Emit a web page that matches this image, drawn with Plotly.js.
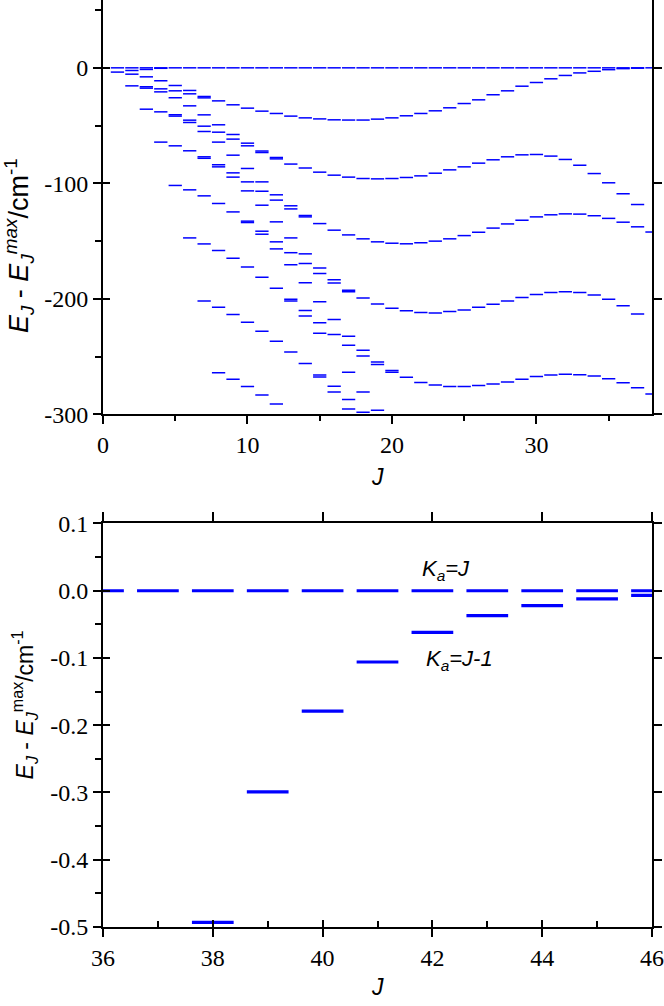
<!DOCTYPE html>
<html><head><meta charset="utf-8">
<script src="https://cdn.plot.ly/plotly-3.0.1.min.js"></script>
<style>html,body{margin:0;padding:0;background:#fff}#chart{width:664px;height:1006px}</style>
</head><body><div id="chart"></div>
<script>
// ---------- DATA ----------
// Top panel: rotational quantum number J and the levels E_J - E_J^max (cm^-1) visible for each J
const topJ = [0,1,2,3,4,5,6,7,8,9,10,11,12,13,14,15,16,17,18,19,20,21,22,23,24,25,26,27,28,29,30,31,32,33,34,35,36,37,38];
const topLevels = [
  [0],
  [0,-3.7],
  [0,-2.3,-5.5,-15.6],
  [0,-1.4,-7.8,-16.4,-17.6,-35.8],
  [0,-0.4,-11.2,-18.2,-20.8,-38.1,-64.3],
  [0,-15.3,-19.9,-25.9,-40.6,-41.8,-67.5,-101.8],
  [0,-19.6,-22.5,-32.9,-45.3,-47.3,-71.8,-105.6,-147.2],
  [0,-24.8,-26.0,-40.7,-50.5,-55.1,-77.0,-78.3,-110.8,-152.4,-201.7],
  [0,-28.6,-49.3,-55.7,-64.3,-83.9,-85.7,-117.4,-158.1,-207.2,-264.0],
  [0,-32.0,-57.7,-61.7,-75.6,-90.9,-94.6,-124.7,-164.8,-213.5,-269.5],
  [0,-34.9,-65.2,-67.5,-87.1,-98.7,-106.5,-132.7,-133.9,-172.3,-220.2,-275.9],
  [0,-37.5,-72.0,-73.3,-98.7,-106.8,-118.9,-141.4,-144.0,-181.2,-228.0,-283.1],
  [0,-39.5,-77.6,-78.8,-109.9,-114.5,-133.3,-150.6,-156.7,-190.7,-236.6,-290.9],
  [0,-41.8,-83.3,-119.4,-122.1,-147.2,-160.0,-170.5,-200.2,-201.9,-246.0],
  [0,-43.3,-86.7,-127.8,-129.0,-161.0,-169.3,-186.1,-210.0,-214.8,-256.0],
  [0,-44.2,-90.3,-134.8,-173.2,-178.1,-202.4,-220.6,-229.8,-265.9,-267.6],
  [0,-45.0,-92.9,-140.5,-183.5,-186.3,-217.9,-230.8,-275.6,-280.5],
  [0,-45.2,-94.6,-144.6,-192.4,-193.9,-232.3,-240.1,-263.5,-287.1,-295.2],
  [0,-45.2,-95.8,-148.0,-199.1,-244.4,-249.3,-280.5,-298.1],
  [0,-44.4,-96.1,-150.6,-204.3,-254.5,-256.8,-296.4],
  [0,-43.3,-95.8,-151.8,-208.1,-262.0,-263.4],
  [0,-41.5,-94.9,-152.3,-210.3,-267.8],
  [0,-39.5,-93.5,-151.4,-211.8,-272.4],
  [0,-37.2,-91.2,-150.0,-212.1,-274.4],
  [0,-34.6,-88.3,-148.0,-210.9,-275.9],
  [0,-30.9,-85.7,-145.2,-209.5,-275.9],
  [0,-27.7,-82.5,-142.3,-207.2,-275.0],
  [0,-23.3,-79.6,-138.7,-204.6,-273.6],
  [0,-19.9,-77.0,-135.1,-201.7,-271.9],
  [0,-15.9,-75.3,-131.9,-198.8,-269.5],
  [0,-12.7,-75.0,-129.0,-196.2,-267.2],
  [0,-9.5,-76.4,-127.2,-194.4,-265.8],
  [0,-6.6,-79.3,-126.4,-193.9,-265.2],
  [0,-4.4,-84.3,-126.6,-194.4,-265.6],
  [0,-3.0,-91.5,-128.0,-196.6,-266.8],
  [0,-1.6,-99.5,-130.3,-200.2,-269.2],
  [0,-0.7,-109.0,-133.6,-205.9,-272.6],
  [0,-0.3,-118.3,-137.6,-213.1,-276.9],
  [0,-142.1,-282.3]
];
const topYTickVals = [0,-100,-200,-300];
const topYTickText = ['0','-100','-200','-300'];
const topYMinor = [50,-50,-150,-250];
const topXTickVals = [0,10,20,30];
const topXTickText = ['0','10','20','30'];
const topXMinor = [5,15,25,35];

// Bottom panel
const botJ = [36,37,38,39,40,41,42,43,44,45,46];
const botKaJ = [0,0,0,0,0,0,0,0,0,0,0];
const botJm1J = [38,39,40,41,42,43,44,45,46];
const botKaJm1 = [-0.493,-0.299,-0.179,-0.106,-0.062,-0.037,-0.022,-0.012,-0.007];
const botYTickVals = [0.1,0,-0.1,-0.2,-0.3,-0.4,-0.5];
const botYTickText = ['0.1','0.0','-0.1','-0.2','-0.3','-0.4','-0.5'];
const botYMinor = [0.05,-0.05,-0.15,-0.25,-0.35,-0.45];
const botXTickVals = [36,38,40,42,44,46];
const botXTickText = ['36','38','40','42','44','46'];
const botXMinor = [37,39,41,43,45];

// ---------- BUILD ----------
function segments(jList, yList, hw) {
  const xs = [], ys = [];
  for (let i = 0; i < jList.length; i++) {
    xs.push(jList[i] - hw, jList[i] + hw, null);
    ys.push(yList[i], yList[i], null);
  }
  return {xs, ys};
}
const tj = [], te = [];
topJ.forEach((j, i) => topLevels[i].forEach(e => { tj.push(j); te.push(e); }));
const topSeg = segments(tj, te, 0.46);
const botSeg1 = segments(botJ, botKaJ, 0.38);
const botSeg2 = segments(botJm1J, botKaJm1, 0.38);

const BLUE = '#0000ff';
const data = [
  {x: topSeg.xs, y: topSeg.ys, xaxis:'x', yaxis:'y', mode:'lines', line:{color:BLUE, width:1.5}, hoverinfo:'skip', showlegend:false},
  {x: botSeg1.xs, y: botSeg1.ys, xaxis:'x2', yaxis:'y2', mode:'lines', line:{color:BLUE, width:3.2}, hoverinfo:'skip', showlegend:false},
  {x: botSeg2.xs, y: botSeg2.ys, xaxis:'x2', yaxis:'y2', mode:'lines', line:{color:BLUE, width:3.2}, hoverinfo:'skip', showlegend:false},
  {x:[], y:[], xaxis:'x', yaxis:'y3', showlegend:false, hoverinfo:'skip'},
  {x:[], y:[], xaxis:'x', yaxis:'y4', showlegend:false, hoverinfo:'skip'},
  {x:[], y:[], xaxis:'x3', yaxis:'y2', showlegend:false, hoverinfo:'skip'},
  {x:[], y:[], xaxis:'x4', yaxis:'y2', showlegend:false, hoverinfo:'skip'},
  {x:[], y:[], xaxis:'x2', yaxis:'y5', showlegend:false, hoverinfo:'skip'},
  {x:[], y:[], xaxis:'x2', yaxis:'y6', showlegend:false, hoverinfo:'skip'}
];

const SERIF = 'Liberation Serif, DejaVu Serif, serif';
const SANS = 'Liberation Sans, Arial, sans-serif';
const tickFont = {family:SERIF, size:24, color:'#000'};
const base = {showgrid:false, zeroline:false, tickcolor:'#000', tickwidth:2, fixedrange:true, tickfont:tickFont};
const line = {showline:true, linecolor:'#000', linewidth:2};
const topYR = [-300, 58.7], botYR = [-0.5, 0.1];
const topDom = [0.5529, 1], botDom = [0, 0.4353];

const layout = {
  width:664, height:1006,
  margin:{l:103, r:12, t:0, b:79.3},
  paper_bgcolor:'#fff', plot_bgcolor:'#fff',
  showlegend:false,
  font:{family:SERIF, color:'#000'},
  xaxis: Object.assign({}, base, line, {anchor:'y', domain:[0,1], range:[0,38], ticks:'outside', ticklen:8,
    tickmode:'array', tickvals:topXTickVals, ticktext:topXTickText,
    minor:{ticks:'outside', ticklen:5, tickwidth:2, tickcolor:'#000', tickmode:'array', tickvals:topXMinor}}),
  yaxis: Object.assign({}, base, line, {anchor:'x', domain:topDom, range:topYR, ticks:'outside', ticklen:8,
    tickmode:'array', tickvals:topYTickVals, ticktext:topYTickText,
    minor:{ticks:'outside', ticklen:6, tickwidth:2, tickcolor:'#000', tickmode:'array', tickvals:topYMinor}}),
  yaxis3: Object.assign({}, base, {overlaying:'y', anchor:'x', side:'left', range:topYR, ticks:'inside', ticklen:7,
    tickmode:'array', tickvals:topYTickVals, showticklabels:false, showline:false}),
  yaxis4: Object.assign({}, base, line, {overlaying:'y', anchor:'x', side:'right', range:topYR, ticks:'outside', ticklen:8,
    tickmode:'array', tickvals:topYTickVals, showticklabels:false}),

  xaxis2: Object.assign({}, base, line, {anchor:'y2', domain:[0,1], range:[36,46], ticks:'outside', ticklen:8,
    tickmode:'array', tickvals:botXTickVals, ticktext:botXTickText,
    minor:{ticks:'inside', ticklen:6, tickwidth:2, tickcolor:'#000', tickmode:'array', tickvals:botXMinor}}),
  xaxis3: Object.assign({}, base, {overlaying:'x2', anchor:'y2', side:'bottom', range:[36,46], ticks:'inside', ticklen:7,
    tickmode:'array', tickvals:botXTickVals, showticklabels:false, showline:false}),
  xaxis4: Object.assign({}, base, line, {overlaying:'x2', anchor:'y2', side:'top', range:[36,46], ticks:'outside', ticklen:9,
    tickmode:'array', tickvals:botXTickVals, showticklabels:false}),
  yaxis2: Object.assign({}, base, line, {anchor:'x2', domain:botDom, range:botYR, ticks:'outside', ticklen:8,
    tickmode:'array', tickvals:botYTickVals, ticktext:botYTickText,
    minor:{ticks:'outside', ticklen:6, tickwidth:2, tickcolor:'#000', tickmode:'array', tickvals:botYMinor}}),
  yaxis5: Object.assign({}, base, {overlaying:'y2', anchor:'x2', side:'left', range:botYR, ticks:'inside', ticklen:7,
    tickmode:'array', tickvals:botYTickVals, showticklabels:false, showline:false}),
  yaxis6: Object.assign({}, base, line, {overlaying:'y2', anchor:'x2', side:'right', range:botYR, ticks:'outside', ticklen:8,
    tickmode:'array', tickvals:botYTickVals, showticklabels:false}),

  annotations: [
    {xref:'paper', yref:'paper', x:-0.154, y:0.735, xanchor:'center', yanchor:'middle', textangle:-90, showarrow:false,
     text:'<i>E</i><sub><i>J</i></sub> - <i>E</i><sub><i>J</i></sub><sup><i>max</i></sup>/cm<sup>-1</sup>',
     font:{family:SANS, size:27, color:'#000'}},
    {xref:'paper', yref:'paper', x:0.5, y:0.4853, xanchor:'center', yanchor:'middle', showarrow:false,
     text:'<i>J</i>', font:{family:SANS, size:23, color:'#000'}},
    {xref:'paper', yref:'paper', x:-0.144, y:0.24, xanchor:'center', yanchor:'middle', textangle:-90, showarrow:false,
     text:'<i>E</i><sub><i>J</i></sub> - <i>E</i><sub><i>J</i></sub><sup>max</sup>/cm<sup>-1</sup>',
     font:{family:SANS, size:23, color:'#000'}},
    {xref:'paper', yref:'paper', x:0.5, y:-0.065, xanchor:'center', yanchor:'middle', showarrow:false,
     text:'<i>J</i>', font:{family:SANS, size:23, color:'#000'}},
    {xref:'x2', yref:'y2', x:42.25, y:0.031, xanchor:'center', yanchor:'middle', showarrow:false,
     text:'<i>K</i><sub><i>a</i></sub><i>=J</i>', font:{family:SANS, size:22, color:'#000'}},
    {xref:'x2', yref:'y2', x:42.5, y:-0.103, xanchor:'center', yanchor:'middle', showarrow:false,
     text:'<i>K</i><sub><i>a</i></sub><i>=J-1</i>', font:{family:SANS, size:22, color:'#000'}}
  ]
};

Plotly.newPlot('chart', data, layout, {staticPlot:true, displayModeBar:false});
</script>
</body></html>
